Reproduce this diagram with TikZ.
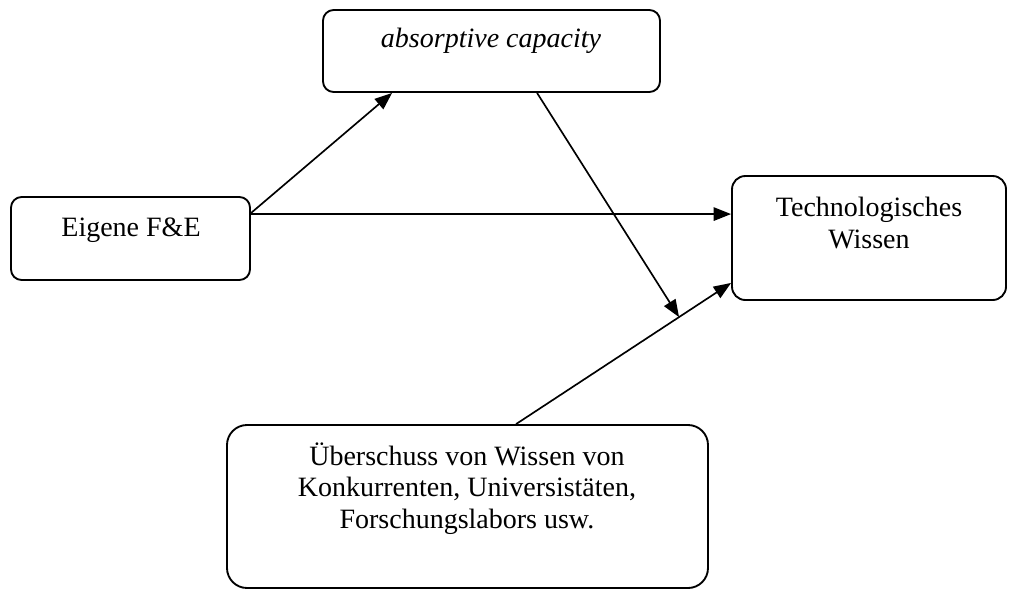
\documentclass[tikz,border=0pt]{standalone}
\usepackage{fontspec}
\setmainfont{Liberation Serif}
\usetikzlibrary{arrows.meta,calc}
\begin{document}
\begin{tikzpicture}[x=0.75pt,y=-0.75pt,
  box/.style={draw, line width=1.4pt, rounded corners=8pt, inner sep=0pt},
  lbl/.style={font=\fontsize{21}{23.3}\selectfont, align=center, inner sep=0pt, anchor=base},
  link/.style={line width=1.25pt, -{Triangle[length=13pt,width=10pt]}}]
\useasboundingbox (0,0) rectangle (1009,590);

% boxes
\node[box, minimum width=252.75pt, minimum height=61.5pt] (abs) at (491.5,51) {};
\node[box, minimum width=179.25pt, minimum height=62.25pt] (eig) at (130.5,238.5) {};
\node[box, minimum width=205.5pt, minimum height=93pt, rounded corners=10pt] (tech) at (869,238) {};
\node[box, minimum width=360.75pt, minimum height=122.25pt, rounded corners=15pt] (bot) at (467.5,506.5) {};

% labels (base anchor sits on the last line)
\node[lbl] (absT) at (491,47) {\itshape absorptive capacity};
\node[lbl] (eigT) at (131,236) {Eigene F\&E};
\node[lbl] (techT) at (869,248) {Technologisches\\Wissen};
\node[lbl] (botT) at (467,528) {Überschuss von Wissen von\\Konkurrenten, Universistäten,\\Forschungslabors usw.};

% connectors
\draw[link] ($(eig.north east)+(0,17)$) -- ($(abs.south west)+(70,0)$);
\draw[link] ($(eig.north east)+(0,18)$) -- ($(tech.north west)+(0,39)$);
\draw[link] ($(bot.north west)+(290,0)$) -- coordinate[pos=0.758] (meet) ($(tech.south west)+(0,-18)$);
\draw[link] ($(abs.south west)+(215,0)$) -- (meet);
\end{tikzpicture}
\end{document}
